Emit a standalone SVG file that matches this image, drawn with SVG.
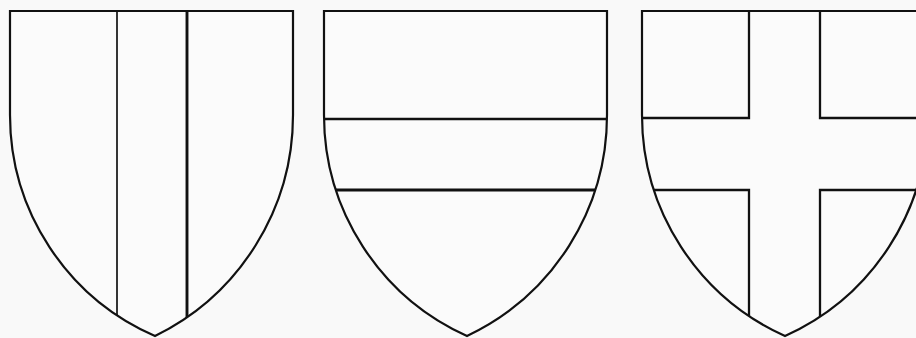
<svg xmlns="http://www.w3.org/2000/svg" width="916" height="338" viewBox="0 0 916 338">
  <defs>
    <style>
      .outline { fill: none; stroke: #111; stroke-width: 2.2; stroke-linejoin: miter; }
      .div { fill: none; stroke: #111; stroke-width: 2.3; }
      .thin { stroke-width: 1.7; }
      .thick { stroke-width: 2.9; }
    </style>
    <path id="shieldA" d="M10,11 H293 V115 A246,246 0 0 1 155,336 A240.9,240.9 0 0 1 10,115 Z"/>
    <path id="shieldB" d="M324,11 H607 V115 A244.4,244.4 0 0 1 467,336 A242.3,242.3 0 0 1 324,115 Z"/>
    <path id="shieldC" d="M642,11 H928 V115 A242.3,242.3 0 0 1 785,336 A242.3,242.3 0 0 1 642,115 Z"/>
    <clipPath id="clipA"><use href="#shieldA"/></clipPath>
    <clipPath id="clipB"><use href="#shieldB"/></clipPath>
    <clipPath id="clipC"><use href="#shieldC"/></clipPath>
  </defs>
  <rect width="916" height="338" fill="#f9f9f9"/>

  <g id="shield-pale">
    <use href="#shieldA" fill="#fbfbfb"/>
    <g clip-path="url(#clipA)">
      <line class="div thin" x1="117" y1="11" x2="117" y2="338"/>
      <line class="div thick" x1="187" y1="11" x2="187" y2="338"/>
    </g>
    <use href="#shieldA" class="outline"/>
  </g>

  <g id="shield-fess">
    <use href="#shieldB" fill="#fbfbfb"/>
    <g clip-path="url(#clipB)">
      <line class="div" x1="320" y1="119" x2="612" y2="119"/>
      <line class="div thick" x1="320" y1="190" x2="612" y2="190"/>
    </g>
    <use href="#shieldB" class="outline"/>
  </g>

  <g id="shield-cross">
    <use href="#shieldC" fill="#fbfbfb"/>
    <g clip-path="url(#clipC)">
      <path class="div" d="M636,118 H749 V8"/>
      <path class="div" d="M820,8 V118 H935"/>
      <path class="div" d="M636,190 H749 V340"/>
      <path class="div" d="M935,190 H820 V340"/>
    </g>
    <use href="#shieldC" class="outline"/>
  </g>
</svg>
